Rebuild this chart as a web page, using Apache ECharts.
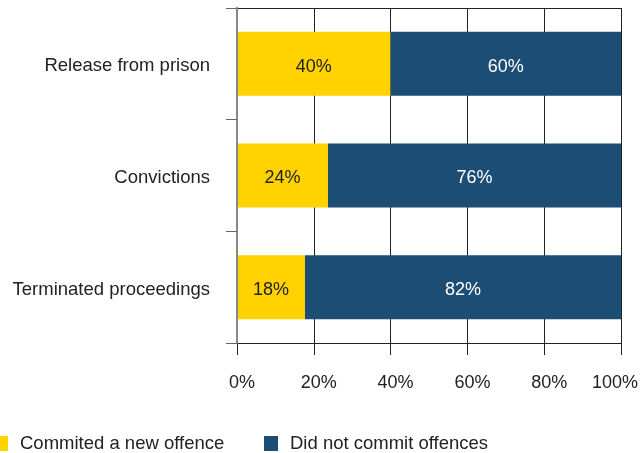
<!DOCTYPE html>
<html><head><meta charset="utf-8">
<script src="https://cdn.jsdelivr.net/npm/echarts@6/dist/echarts.min.js"></script>
<style>html,body{margin:0;padding:0;background:#fff}#c{width:640px;height:453px}</style>
</head><body><div id="c"></div>
<script>
const categories = ['Terminated proceedings', 'Convictions', 'Release from prison'];
const committed = [17.7, 23.7, 40];
const notCommitted = [82.3, 76.3, 60];
const xTicks = [0, 20, 40, 60, 80, 100];
const seriesNames = ['Commited a new offence', 'Did not commit offences'];
const colors = ['#FFD200', '#1C4D74'];
const FONT = 'Liberation Sans';
const TXT = 18.5, NUM = 18;
const chart = echarts.init(document.getElementById('c'));
chart.setOption({
  animation: false,
  textStyle: {fontFamily: FONT},
  grid: {left: 237, right: 19, top: 8, bottom: 110, outerBoundsMode: 'none', containLabel: false},
  legend: [
    {data: [seriesNames[0]], left: 0, top: 434, padding: 0, itemWidth: 8, itemHeight: 15, icon: 'rect',
     textStyle: {fontFamily: FONT, fontSize: TXT, color: '#222', padding: [0,0,0,7]}},
    {data: [seriesNames[1]], left: 264, top: 434, padding: 0, itemWidth: 14, itemHeight: 15, icon: 'rect',
     textStyle: {fontFamily: FONT, fontSize: TXT, color: '#222', padding: [0,0,0,7]}}
  ],
  xAxis: [{
    type: 'value', min: xTicks[0], max: xTicks[xTicks.length-1], interval: 20,
    axisLine: {show: true, lineStyle: {color: '#222', width: 1}},
    axisTick: {show: true, length: 12, lineStyle: {color: '#222'}},
    splitLine: {show: true, lineStyle: {color: '#222', width: 1}},
    axisLabel: {
      formatter: v => v === xTicks[xTicks.length-1] ? '{b|' + v + '%}' : '{a|' + v + '%}',
      fontSize: NUM, color: '#222', margin: 31, fontFamily: FONT,
      rich: {
        a: {fontSize: NUM, color: '#222', fontFamily: FONT, padding: [0, 0, 0, 10]},
        b: {fontSize: NUM, color: '#222', fontFamily: FONT, padding: [0, 12, 0, 0]}
      }
    }
  }, {
    type: 'value', position: 'top', min: 0, max: 100, interval: 20,
    axisLine: {show: true, lineStyle: {color: '#222', width: 1}},
    axisTick: {show: false}, axisLabel: {show: false}, splitLine: {show: false}
  }],
  yAxis: [{
    type: 'category', data: categories,
    axisLine: {show: true, lineStyle: {color: '#888', width: 2}},
    axisTick: {show: true, length: 11, lineStyle: {color: '#666', width: 1}},
    axisLabel: {
      formatter: v => '{c|' + v + '}',
      fontSize: TXT, color: '#222', margin: 27, fontFamily: FONT,
      rich: {c: {fontSize: TXT, color: '#222', fontFamily: FONT, padding: [5, 0, 0, 0]}}
    },
    z: 5
  }, {
    type: 'category', data: categories, position: 'right',
    axisLine: {show: true, lineStyle: {color: '#888', width: 2}},
    axisTick: {show: false}, axisLabel: {show: false}
  }],
  series: [
    {name: seriesNames[0], type: 'bar', stack: 'a', data: committed, barWidth: 64,
     itemStyle: {color: colors[0]},
     label: {show: true, position: 'inside', offset: [0, 3], formatter: p => Math.round(p.value) + '%', color: '#222', fontSize: NUM, fontFamily: FONT}},
    {name: seriesNames[1], type: 'bar', stack: 'a', data: notCommitted, barWidth: 64,
     itemStyle: {color: colors[1]},
     label: {show: true, position: 'inside', offset: [0, 3], formatter: p => Math.round(p.value) + '%', color: '#fff', fontSize: NUM, fontFamily: FONT}}
  ]
});
</script></body></html>
